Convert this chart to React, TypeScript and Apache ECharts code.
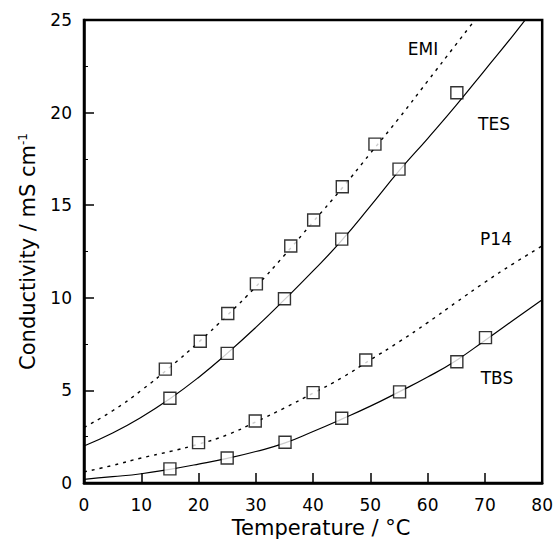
import React, { useEffect, useRef } from "react";
import * as echarts from "echarts";

// Fitted curves
const emiFitT = [0, 5, 10, 15, 20, 25, 30, 35, 40, 45, 50, 55, 60, 65, 70];
const emiFitV = [3.0, 3.9, 5.0, 6.25, 7.6, 9.05, 10.6, 12.3, 14.1, 15.9, 17.8, 19.7, 21.7, 23.7, 25.7];
const tesFitT = [0, 5, 10, 15, 20, 25, 30, 35, 40, 45, 50, 55, 60, 65, 70, 75, 80];
const tesFitV = [2.0, 2.7, 3.55, 4.55, 5.7, 7.0, 8.4, 9.9, 11.45, 13.1, 14.95, 16.85, 18.6, 20.4, 22.3, 24.2, 26.2];
const p14FitT = [0, 5, 10, 15, 20, 25, 30, 35, 40, 45, 50, 55, 60, 65, 70, 75, 80];
const p14FitV = [0.6, 0.95, 1.35, 1.7, 2.1, 2.6, 3.3, 4.05, 4.85, 5.68, 6.65, 7.62, 8.66, 9.76, 10.84, 11.85, 12.8];
const tbsFitT = [0, 5, 10, 15, 20, 25, 30, 35, 40, 45, 50, 55, 60, 65, 70, 75, 80];
const tbsFitV = [0.2, 0.34, 0.5, 0.74, 1.02, 1.33, 1.7, 2.15, 2.78, 3.45, 4.15, 4.92, 5.72, 6.62, 7.7, 8.8, 9.9];

// Measured points
const emiT = [14.2, 20.3, 25.1, 30.1, 36.1, 40.1, 45.1, 50.8];
const emiV = [6.15, 7.65, 9.15, 10.75, 12.8, 14.2, 16.0, 18.3];
const tesT = [15, 25, 35, 45, 55, 65.1];
const tesV = [4.58, 7.0, 9.95, 13.17, 16.95, 21.07];
const p14T = [20, 29.9, 40, 49.2];
const p14V = [2.18, 3.35, 4.88, 6.64];
const tbsT = [15, 25, 35.1, 45, 55.1, 65.1, 70.1];
const tbsV = [0.76, 1.35, 2.2, 3.5, 4.92, 6.55, 7.85];

const seriesLabels = ["EMI", "TES", "P14", "TBS"];

const FONT = "DejaVu Sans";

const zip = (a: number[], b: number[]) => a.map((x, i) => [x, b[i]]);

export default function App() {
  const ref = useRef<HTMLDivElement>(null);
  useEffect(() => {
    const chart = echarts.init(ref.current!, null, { renderer: "svg" });
    const fitLine = (name: string, t: number[], v: number[], dotted: boolean) => ({
      name,
      type: "line",
      data: zip(t, v),
      showSymbol: false,
      smooth: true,
      clip: true,
      lineStyle: { color: "#000", width: dotted ? 1.4 : 1.2, type: dotted ? [3, 5] : "solid" },
      z: 2,
    });
    const pts = (name: string, t: number[], v: number[]) => ({
      name,
      type: "scatter",
      data: zip(t, v),
      symbol: "rect",
      symbolSize: 12,
      itemStyle: { color: "#fff", borderColor: "#000", borderWidth: 1.4 },
      z: 5,
    });
    const labelPos = [
      [423, 49],
      [494, 124],
      [496, 239],
      [497, 378],
    ];
    chart.setOption({
      animation: false,
      backgroundColor: "#fff",
      textStyle: { fontFamily: FONT },
      grid: {
        left: 84,
        top: 20,
        right: 10,
        bottom: 62,
        show: true,
        borderColor: "#000",
        borderWidth: 2.5,
        backgroundColor: "transparent",
      },
      xAxis: {
        type: "value",
        min: 0,
        max: 80,
        interval: 10,
        name: "Temperature / °C",
        nameLocation: "middle",
        nameGap: 33,
        nameTextStyle: { fontSize: 21, color: "#000", fontFamily: FONT, padding: [0, 0, 0, 16] },
        axisLine: { show: true, lineStyle: { color: "#000", width: 2.5 } },
        axisTick: { show: true, inside: true, length: 10, lineStyle: { color: "#000", width: 1.5 } },
        axisLabel: { fontSize: 17, color: "#000", margin: 13, fontFamily: FONT },
        splitLine: { show: false },
      },
      yAxis: {
        type: "value",
        min: 0,
        max: 25,
        interval: 5,
        name: "Conductivity / mS cm{sup|-1}",
        nameLocation: "middle",
        nameGap: 46,
        nameRotate: 90,
        nameTextStyle: {
          fontSize: 21,
          color: "#000",
          fontFamily: FONT,
          rich: { sup: { fontSize: 12, verticalAlign: "top", color: "#000", fontFamily: FONT } },
        },
        axisLine: { show: true, lineStyle: { color: "#000", width: 2.5 } },
        axisTick: { show: true, inside: true, length: 10, lineStyle: { color: "#000", width: 1.5 } },
        minorTick: { show: true, splitNumber: 2, length: 4, lineStyle: { color: "#000", width: 1 } },
        axisLabel: { fontSize: 17, color: "#000", margin: 12, fontFamily: FONT },
        splitLine: { show: false },
      },
      graphic: seriesLabels.map((txt, i) => ({
        type: "text",
        x: labelPos[i][0],
        y: labelPos[i][1],
        style: {
          text: txt,
          fontSize: 17,
          fontFamily: FONT,
          fill: "#000",
          textAlign: "center",
          textVerticalAlign: "middle",
        },
        z: 10,
      })),
      series: [
        fitLine("EMI fit", emiFitT, emiFitV, true),
        fitLine("TES fit", tesFitT, tesFitV, false),
        fitLine("P14 fit", p14FitT, p14FitV, true),
        fitLine("TBS fit", tbsFitT, tbsFitV, false),
        pts("EMI", emiT, emiV),
        pts("TES", tesT, tesV),
        pts("P14", p14T, p14V),
        pts("TBS", tbsT, tbsV),
      ],
    });
    return () => chart.dispose();
  }, []);
  return <div ref={ref} style={{ position: "fixed", left: 0, top: 0, width: 556, height: 545 }} />;
}
